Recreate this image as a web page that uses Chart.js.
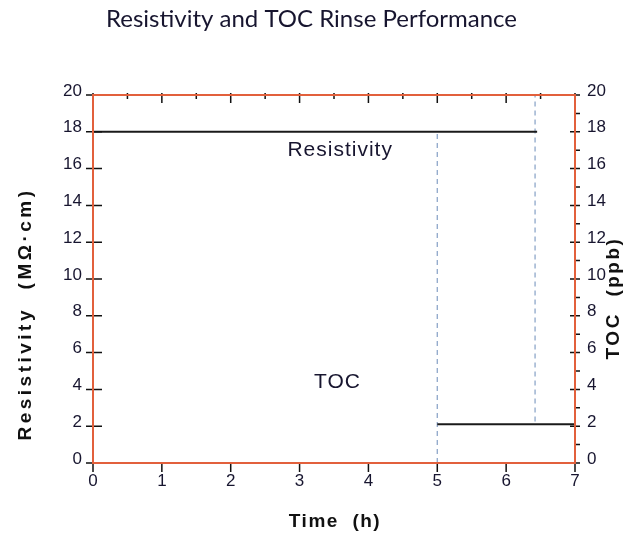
<!DOCTYPE html>
<html lang="en">
<head>
    <meta charset="UTF-8">
    <title>Resistivity and TOC Rinse Performance</title>
    <script src="https://cdn.jsdelivr.net/npm/chart.js"></script>
    <style>
        html, body { margin: 0; padding: 0; background: #fff; }
        #wrap { width: 631px; height: 536px; }
    </style>
</head>
<body>
    <div id="wrap"><canvas id="rinseChart" width="631" height="536"></canvas></div>

    <script>
        // Data
        const resistivityTime = [0, 6.45];
        const resistivityValue = [18, 18];
        const tocTime = [5, 7];
        const tocValue = [2.1, 2.1];
        // dashed guide lines (time, value range)
        const guideA = { time: 5, from: 0, to: 18 };
        const guideB = { time: 6.42, from: 2.25, to: 20 };

        const yTicks = [0, 2, 4, 6, 8, 10, 12, 14, 16, 18, 20];
        const xTicks = [0, 1, 2, 3, 4, 5, 6, 7];

        const frameColor = '#e2603c';
        const textColor = '#17152f';

        function pts(xs, ys) {
            return xs.map((x, i) => ({ x: x, y: ys[i] }));
        }

        // Frame, tick marks and text annotations
        const framePlugin = {
            id: 'frame',
            afterDatasetsDraw(chart) {
                const ctx = chart.ctx;
                const a = chart.chartArea;
                const xs = chart.scales.x;
                const yl = chart.scales.y;
                const yr = chart.scales.y2;
                ctx.save();

                // tick marks
                ctx.strokeStyle = '#111';
                ctx.lineWidth = 1.5;
                ctx.beginPath();
                xTicks.forEach(v => {
                    const px = xs.getPixelForValue(v);
                    ctx.moveTo(px, a.bottom); ctx.lineTo(px, a.bottom + 9);   // bottom, outward
                    ctx.moveTo(px, a.top - 2); ctx.lineTo(px, a.top + 8);     // top, major
                    if (v < 7) {
                        const ph = xs.getPixelForValue(v + 0.5);
                        ctx.moveTo(ph, a.top - 2); ctx.lineTo(ph, a.top + 4); // top, minor
                    }
                });
                yTicks.forEach(v => {
                    const pl = yl.getPixelForValue(v);
                    ctx.moveTo(a.left - 7, pl); ctx.lineTo(a.left + 9, pl);   // left, major
                    const pr = yr.getPixelForValue(v);
                    ctx.moveTo(a.right - 5, pr); ctx.lineTo(a.right + 5, pr); // right, major
                    if (v < 20) {
                        const pm = yr.getPixelForValue(v + 1);
                        ctx.moveTo(a.right, pm); ctx.lineTo(a.right + 5, pm); // right, minor
                    }
                });
                ctx.stroke();

                // orange frame
                ctx.strokeStyle = frameColor;
                ctx.lineWidth = 2;
                ctx.strokeRect(a.left, a.top, a.right - a.left, a.bottom - a.top);

                // labels inside the plot
                ctx.fillStyle = textColor;
                ctx.textAlign = 'center';
                ctx.textBaseline = 'middle';
                ctx.font = '21px "Liberation Sans", Arial, sans-serif';
                ctx.letterSpacing = '1px';
                ctx.fillText('Resistivity', xs.getPixelForValue(3.59), yl.getPixelForValue(17.0));
                ctx.fillText('TOC', xs.getPixelForValue(3.55), yl.getPixelForValue(4.4));

                // axis titles
                ctx.fillStyle = '#111';
                ctx.font = 'bold 19px "Liberation Sans", Arial, sans-serif';
                ctx.letterSpacing = '1.5px';
                ctx.fillText('Time  (h)', 335, 522);

                ctx.letterSpacing = '3.5px';
                ctx.save();
                ctx.translate(26, 314);
                ctx.rotate(-Math.PI / 2);
                ctx.fillText('Resistivity  (M\u03A9\u00B7cm)', 0, 0);
                ctx.restore();

                ctx.letterSpacing = '2.5px';
                ctx.save();
                ctx.translate(614, 298);
                ctx.rotate(-Math.PI / 2);
                ctx.fillText('TOC  (ppb)', 0, 0);
                ctx.restore();

                ctx.restore();
            }
        };

        const tickFont = { family: '"Liberation Sans", Arial, sans-serif', size: 17 };

        new Chart(document.getElementById('rinseChart'), {
            type: 'line',
            data: {
                datasets: [
                    {
                        label: 'Resistivity',
                        data: pts(resistivityTime, resistivityValue),
                        borderColor: '#1a1a1a',
                        borderWidth: 2,
                        pointRadius: 0,
                        yAxisID: 'y'
                    },
                    {
                        label: 'TOC',
                        data: pts(tocTime, tocValue),
                        borderColor: '#1a1a1a',
                        borderWidth: 2,
                        pointRadius: 0,
                        yAxisID: 'y2'
                    },
                    {
                        label: 'guide A',
                        data: pts([guideA.time, guideA.time], [guideA.from, guideA.to]),
                        borderColor: '#8ea7ca',
                        borderWidth: 1.3,
                        borderDash: [5, 4],
                        pointRadius: 0,
                        yAxisID: 'y'
                    },
                    {
                        label: 'guide B',
                        data: pts([guideB.time, guideB.time], [guideB.from, guideB.to]),
                        borderColor: '#8ea7ca',
                        borderWidth: 1.3,
                        borderDash: [5, 4],
                        pointRadius: 0,
                        yAxisID: 'y'
                    }
                ]
            },
            options: {
                responsive: false,
                animation: false,
                layout: { padding: { left: 0, right: 8, top: 0, bottom: 0 } },
                plugins: {
                    legend: { display: false },
                    tooltip: { enabled: false },
                    title: {
                        display: true,
                        text: 'Resistivity and TOC Rinse Performance',
                        color: textColor,
                        font: { family: 'Lato, "Open Sans", sans-serif', size: 24, weight: 'normal', lineHeight: 1.2 },
                        padding: { top: 5, bottom: 61.2 }
                    }
                },
                scales: {
                    x: {
                        type: 'linear',
                        min: 0,
                        max: 7,
                        afterFit(s) { s.height = 73; },
                        afterBuildTicks(s) { s.ticks = xTicks.map(v => ({ value: v })); },
                        grid: { display: false, drawTicks: false },
                        border: { display: false },
                        ticks: { color: textColor, font: tickFont, padding: 8 }
                    },
                    y: {
                        position: 'left',
                        min: 0,
                        max: 20,
                        afterFit(s) { s.width = 93; },
                        afterBuildTicks(s) { s.ticks = yTicks.map(v => ({ value: v })); },
                        grid: { display: false, drawTicks: false },
                        border: { display: false },
                        ticks: { color: textColor, font: tickFont, padding: 11, labelOffset: -4 }
                    },
                    y2: {
                        position: 'right',
                        min: 0,
                        max: 20,
                        afterFit(s) { s.width = 48; },
                        afterBuildTicks(s) { s.ticks = yTicks.map(v => ({ value: v })); },
                        grid: { display: false, drawTicks: false },
                        border: { display: false },
                        ticks: { color: textColor, font: tickFont, padding: 12, labelOffset: -4 }
                    }
                }
            },
            plugins: [framePlugin]
        });
    </script>
</body>
</html>
